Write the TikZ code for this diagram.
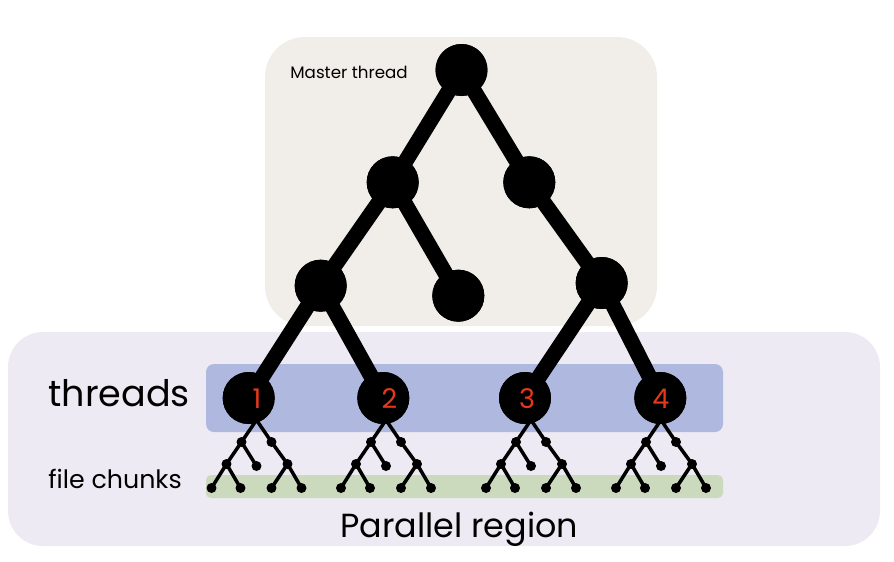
\documentclass[tikz,border=0pt]{standalone}
\usepackage{fontspec}
\setmainfont{Poppins}
\definecolor{masterbg}{HTML}{F1EEE9}
\definecolor{parbg}{HTML}{EDEAF3}
\definecolor{threadbg}{HTML}{AFB8DE}
\definecolor{chunkbg}{HTML}{CBD9BD}
\definecolor{numred}{HTML}{E9371C}
\tikzset{
  bignode/.style={circle,fill=black,minimum size=1.04cm,inner sep=0pt},
  bigedge/.style={line width=0.31cm},
  sdot/.style={circle,fill=black,minimum size=0.2cm,inner sep=0pt},
  sedge/.style={line width=0.07cm},
  lbl/.style={inner sep=0pt,anchor=base west},
  numlbl/.style={inner sep=0pt,anchor=base,text=numred,font=\fontsize{15.4pt}{18pt}\selectfont},
  chunktree/.pic={
    \coordinate (-r) at (0,0);
    \node[sdot] (-a) at (-15,22) {};
    \node[sdot] (-b) at (15,22) {};
    \node[sdot] (-aa) at (-30,44) {};
    \node[sdot] (-ab) at (0,46) {};
    \node[sdot] (-bb) at (31,44) {};
    \node[sdot] (-aaa) at (-45,68) {};
    \node[sdot] (-aab) at (-16,68) {};
    \node[sdot] (-bba) at (15,68) {};
    \node[sdot] (-bbb) at (45,68) {};
    \draw[sedge] (-r) -- (-a.center) (-r) -- (-b.center)
      (-a.center) -- (-aa.center) (-a.center) -- (-ab.center)
      (-b.center) -- (-bb.center)
      (-aa.center) -- (-aaa.center) (-aa.center) -- (-aab.center)
      (-bb.center) -- (-bba.center) (-bb.center) -- (-bbb.center);
  }
}
\begin{document}
\begin{tikzpicture}[x=0.02cm,y=-0.02cm]
\useasboundingbox (0,0) rectangle (894,562);
% backgrounds
\fill[masterbg,rounded corners=0.8cm] (265,37) rectangle (657,326);
\fill[parbg,rounded corners=0.7cm] (8,332) rectangle (880,546);
\fill[threadbg,rounded corners=0.16cm] (206,364) rectangle (723,432);
\fill[chunkbg,rounded corners=0.1cm] (206,475) rectangle (723,498);
% small trees
\pic (c1) at (256.5,420) {chunktree};
\pic (c2) at (386,420) {chunktree};
\pic (c3) at (531,420) {chunktree};
\pic (c4) at (661,420) {chunktree};
% big tree nodes
\node[bignode] (root) at (461.5,70) {};
\node[bignode] (l) at (392.7,182.3) {};
\node[bignode] (r) at (529.3,182.3) {};
\node[bignode] (ll) at (320.7,285.7) {};
\node[bignode] (lr) at (458.3,295.7) {};
\node[bignode] (rr) at (601.7,283) {};
\node[bignode] (t1) at (248.7,398) {};
\node[bignode] (t2) at (383.3,398) {};
\node[bignode] (t3) at (525,398) {};
\node[bignode] (t4) at (660.3,398) {};
\draw[bigedge] (root.center) -- (l.center) (root.center) -- (r.center)
  (l.center) -- (ll.center) (l.center) -- (lr.center)
  (r.center) -- (rr.center)
  (ll.center) -- (t1.center) (ll.center) -- (t2.center)
  (rr.center) -- (t3.center) (rr.center) -- (t4.center);
% redraw circles on top
\foreach \n in {root,l,r,ll,lr,rr,t1,t2,t3,t4} \fill (\n) circle (0.52cm);
% labels
\node[numlbl] (n1) at (257,408) {1};
\node[numlbl] (n2) at (389.5,408) {2};
\node[numlbl] (n3) at (527,408) {3};
\node[numlbl] (n4) at (661,408) {4};
\node[lbl,font=\fontsize{9.5pt}{12pt}\selectfont] (master) at (290,78) {Master thread};
\node[lbl,font=\fontsize{20.8pt}{25pt}\selectfont] (threads) at (48,406) {threads};
\node[lbl,font=\fontsize{14.4pt}{17pt}\selectfont] (chunks) at (48,488) {file chunks};
\node[lbl,font=\fontsize{19.0pt}{23pt}\selectfont] (par) at (340,537) {Parallel region};
\end{tikzpicture}
\end{document}
